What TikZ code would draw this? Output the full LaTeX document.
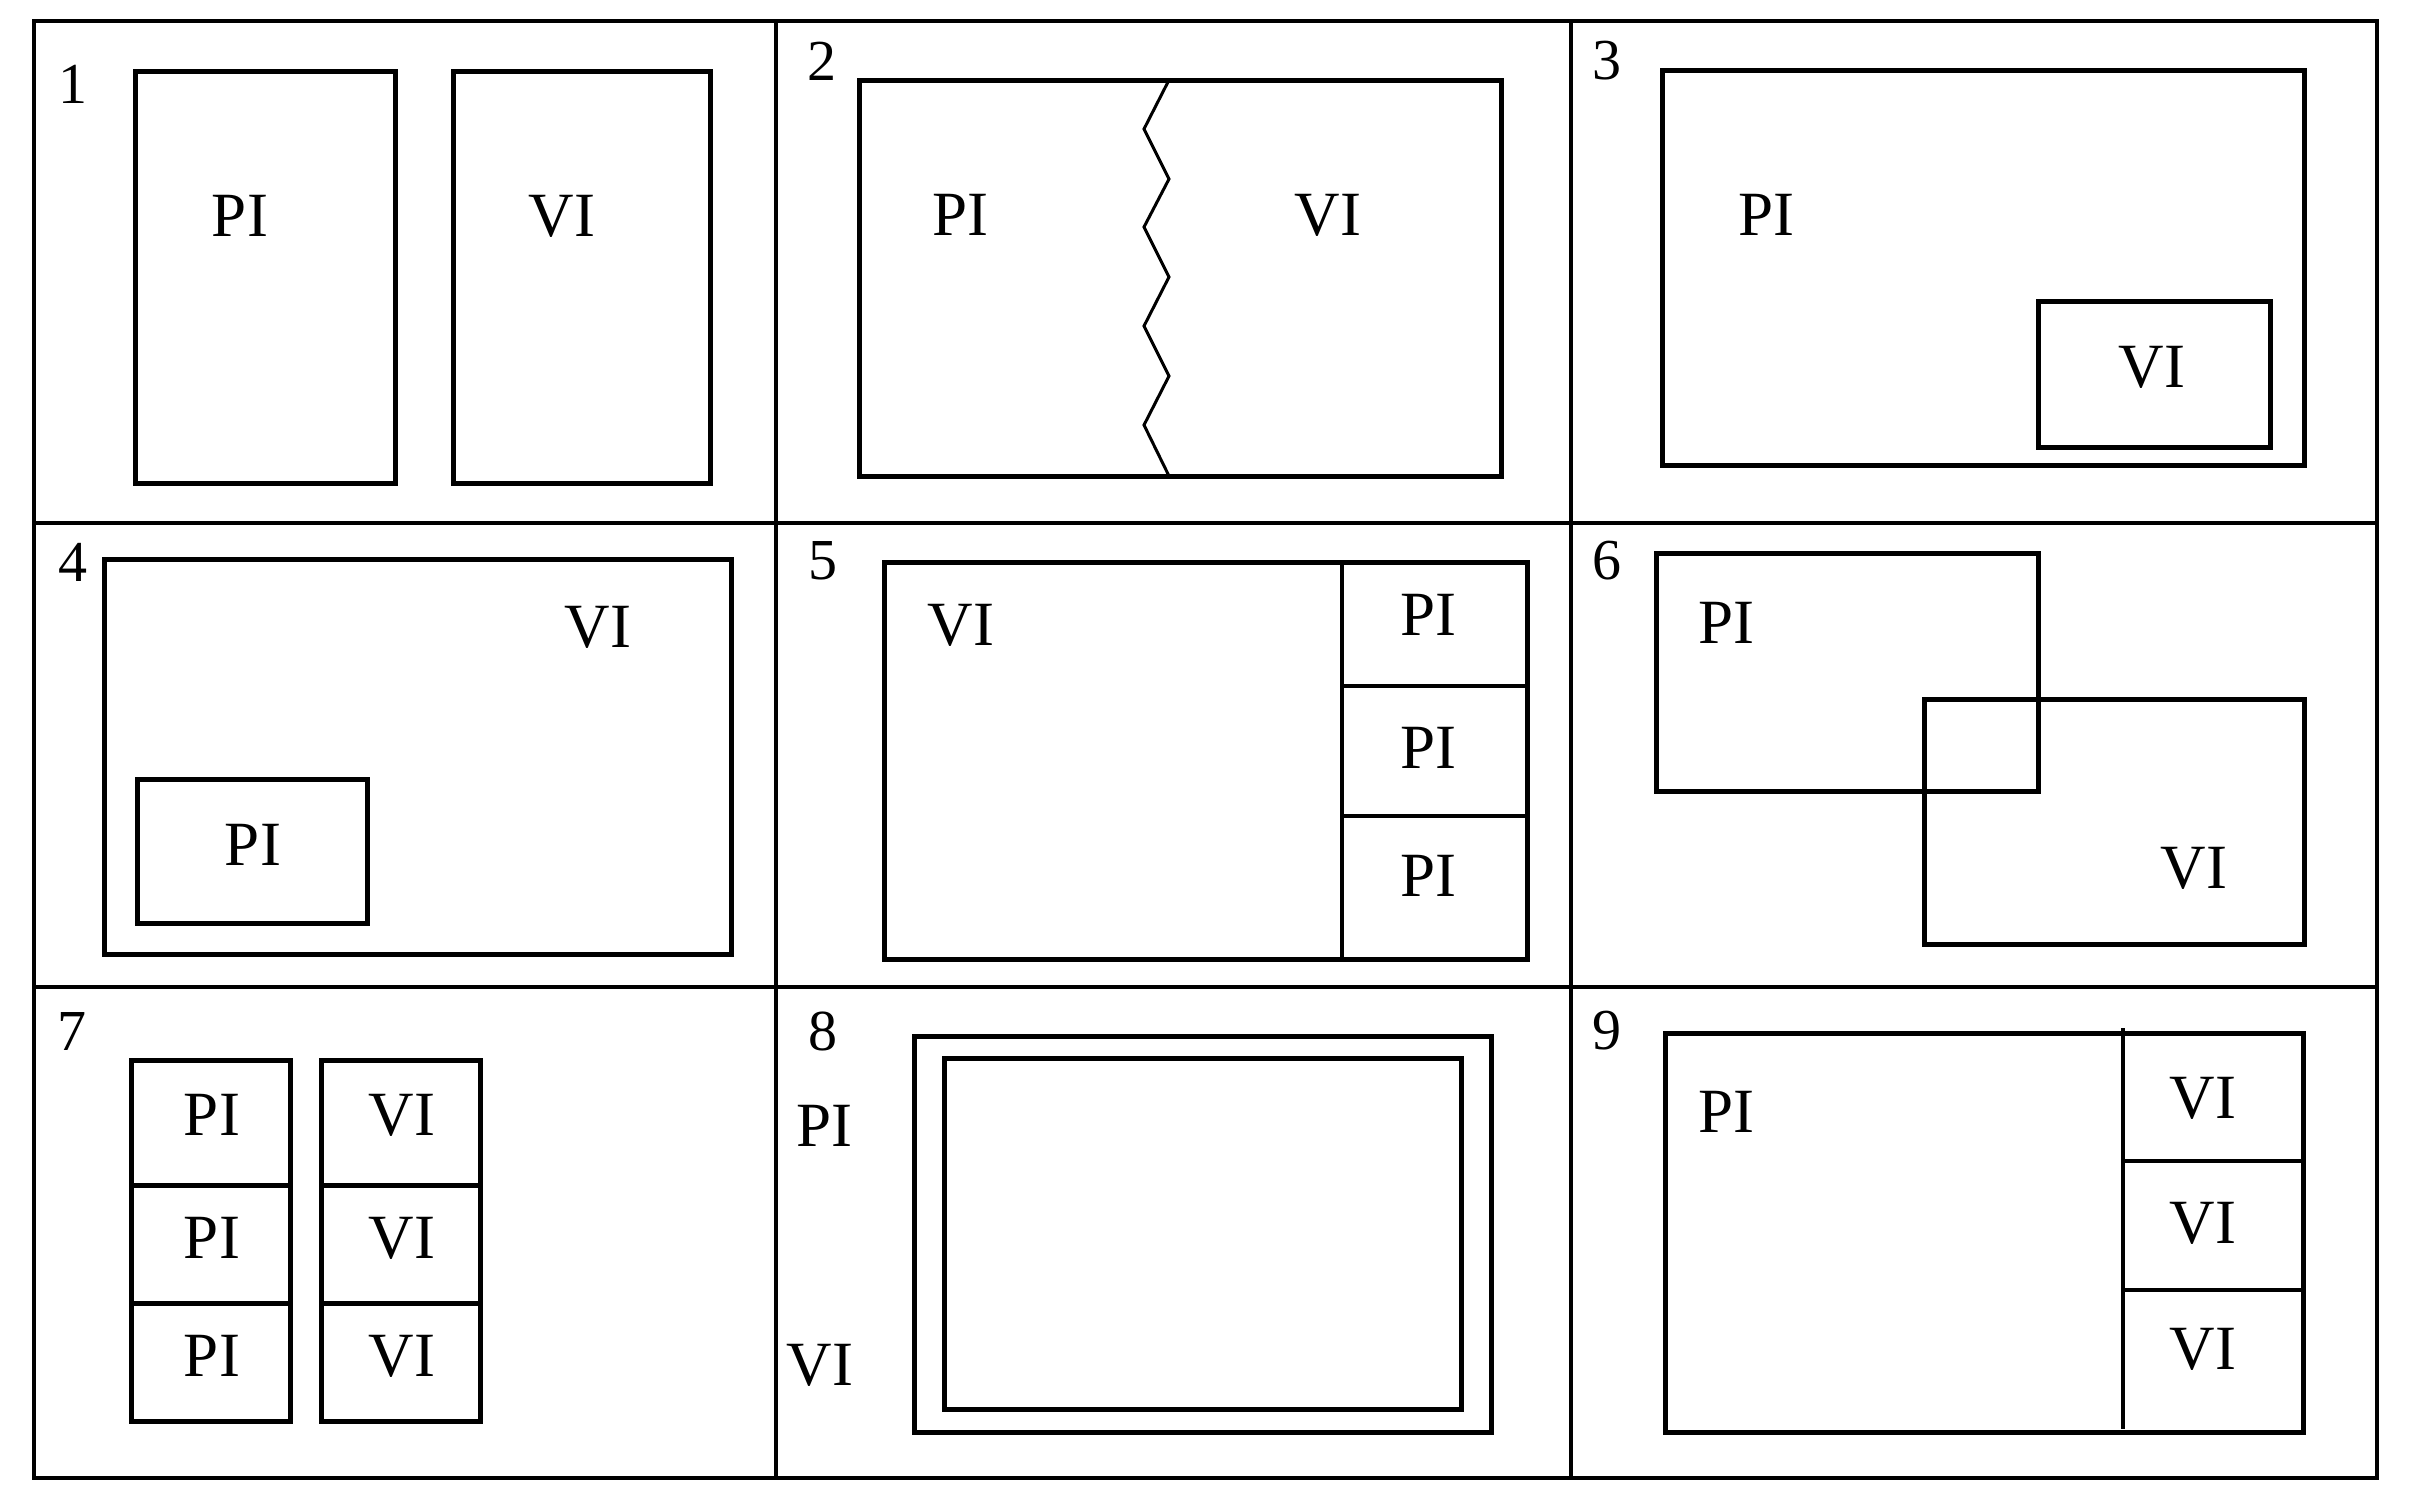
\documentclass[tikz,border=0pt]{standalone}
\usepackage{fontspec}
\setmainfont{Liberation Serif}
\begin{document}
\begin{tikzpicture}[x=1pt,y=-1pt,
  gridline/.style={line width=4.5pt},
  boxline/.style={line width=5pt},
  divline/.style={line width=3.5pt},
  zigline/.style={line width=3pt, line join=miter},
  lab/.style={inner sep=0pt, font=\fontsize{63pt}{70pt}\selectfont},
  num/.style={inner sep=0pt, font=\fontsize{58pt}{64pt}\selectfont}]
\useasboundingbox (0,0) rectangle (2414,1492);
\fill[white] (0,0) rectangle (2414,1492);
% grid
\draw[gridline] (34,21) rectangle (2377,1478);
\draw[gridline] (776,21) -- (776,1478);
\draw[gridline] (1571,21) -- (1571,1478);
\draw[gridline] (34,523) -- (2377,523);
\draw[gridline] (34,987) -- (2377,987);
% numbers
\node[num] (n1) at (73,84) {1};
\node[num] (n2) at (822,61) {2};
\node[num] (n3) at (1607,61) {3};
\node[num] (n4) at (73,562) {4};
\node[num] (n5) at (823,561) {5};
\node[num] (n6) at (1607,561) {6};
\node[num] (n7) at (72,1031) {7};
\node[num] (n8) at (823,1031) {8};
\node[num] (n9) at (1607,1031) {9};
% cell 1
\draw[boxline] (135,71) rectangle (395,483);
\draw[boxline] (453,71) rectangle (710,483);
\node[lab] (c1pi) at (240,216) {PI};
\node[lab] (c1vi) at (562,216) {VI};
% cell 2
\draw[boxline] (859,80) rectangle (1501,476);
\draw[zigline] (1169,80) -- (1144,129) -- (1169,179) -- (1144,227) -- (1169,277)
  -- (1144,326) -- (1169,376) -- (1144,425) -- (1169,476);
\node[lab] (c2pi) at (960,215) {PI};
\node[lab] (c2vi) at (1328,215) {VI};
% cell 3
\draw[boxline] (1662,70) rectangle (2304,465);
\draw[boxline] (2038,301) rectangle (2270,447);
\node[lab] (c3pi) at (1766,215) {PI};
\node[lab] (c3vi) at (2152,367) {VI};
% cell 4
\draw[boxline] (104,559) rectangle (731,954);
\draw[boxline] (137,779) rectangle (367,923);
\node[lab] (c4pi) at (253,845) {PI};
\node[lab] (c4vi) at (598,627) {VI};
% cell 5
\draw[boxline] (884,562) rectangle (1527,959);
\draw[divline] (1342,562) -- (1342,959);
\draw[divline] (1342,686) -- (1527,686);
\draw[divline] (1342,816) -- (1527,816);
\node[lab] (c5vi) at (961,625) {VI};
\node[lab] (c5pa) at (1428,615) {PI};
\node[lab] (c5pb) at (1428,748) {PI};
\node[lab] (c5pc) at (1428,876) {PI};
% cell 6
\draw[boxline] (1656,553) rectangle (2038,791);
\draw[boxline] (1924,699) rectangle (2304,944);
\node[lab] (c6pi) at (1726,623) {PI};
\node[lab] (c6vi) at (2194,868) {VI};
% cell 7
\draw[boxline] (131,1060) rectangle (290,1421);
\draw[boxline] (131,1185) -- (290,1185);
\draw[boxline] (131,1303) -- (290,1303);
\draw[boxline] (321,1060) rectangle (480,1421);
\draw[boxline] (321,1185) -- (480,1185);
\draw[boxline] (321,1303) -- (480,1303);
\node[lab] (c7pa) at (212,1115) {PI};
\node[lab] (c7pb) at (212,1238) {PI};
\node[lab] (c7pc) at (212,1356) {PI};
\node[lab] (c7va) at (402,1115) {VI};
\node[lab] (c7vb) at (402,1238) {VI};
\node[lab] (c7vc) at (402,1356) {VI};
% cell 8
\draw[boxline] (914,1036) rectangle (1491,1432);
\draw[boxline] (944,1058) rectangle (1461,1409);
\node[lab] (c8pi) at (824,1126) {PI};
\node[lab] (c8vi) at (820,1365) {VI};
% cell 9
\draw[boxline] (1665,1033) rectangle (2303,1432);
\draw[divline] (2123,1028) -- (2123,1429);
\draw[divline] (2123,1161) -- (2303,1161);
\draw[divline] (2123,1290) -- (2303,1290);
\node[lab] (c9pi) at (1726,1112) {PI};
\node[lab] (c9va) at (2203,1098) {VI};
\node[lab] (c9vb) at (2203,1223) {VI};
\node[lab] (c9vc) at (2203,1349) {VI};
\end{tikzpicture}
\end{document}
